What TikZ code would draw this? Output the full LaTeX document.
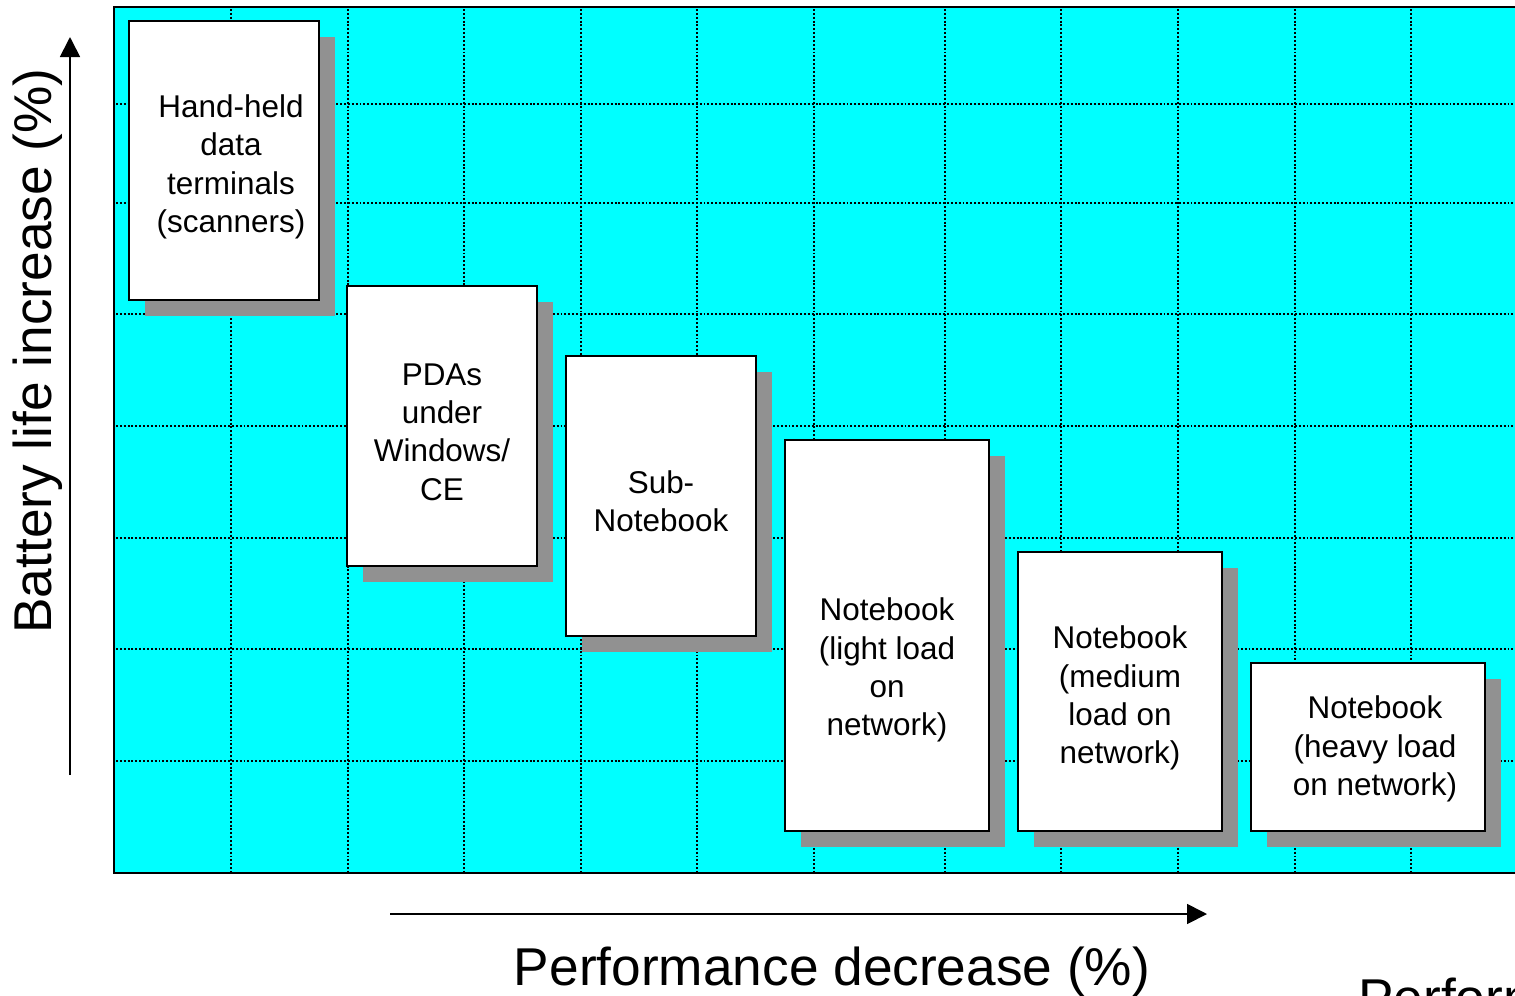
\documentclass[tikz,border=0pt]{standalone}
\usepackage{fontspec}
\setmainfont{Liberation Sans}
\usetikzlibrary{arrows.meta,shadows}
\definecolor{plotcyan}{RGB}{0,255,255}
\definecolor{shadowgray}{RGB}{145,145,145}

\begin{document}
\begin{tikzpicture}[x=0.02cm, y=-0.02cm,
        box/.style={draw, line width=1.3pt, fill=white, inner sep=0pt,
            drop shadow={shadow xshift=0.32cm, shadow yshift=-0.32cm, fill=shadowgray, opacity=1}},
        boxtext/.style={align=center, font=\fontsize{17.9}{21.8}\selectfont},
        axislabel/.style={font=\fontsize{30.3}{36}\selectfont},
        axisarrow/.style={line width=1pt, -{Triangle[length=0.4cm, width=0.4cm]}},
        gridline/.style={line width=0.8pt, dash pattern=on 1.1pt off 1.1pt}]
                \useasboundingbox (0,0) rectangle (1515,995);
                \clip (0,0) rectangle (1515,995);
                \draw[line width=1.5pt, fill=plotcyan] (114,7) rectangle (1540,873);
                \foreach \x in {231,348,464,581,697,814,945,1061,1178,1295,1411}
                    \draw[gridline] (\x,9) -- (\x,871);
                \foreach \y in {104,203,314,426,538,649,761}
                    \draw[gridline] (116,\y) -- (1540,\y);
                \node[box, minimum width=3.8cm, minimum height=5.58cm] (handheld) at (224,160.5) {};
                \node[box, minimum width=3.8cm, minimum height=5.6cm] (pdas) at (442,426) {};
                \node[box, minimum width=3.8cm, minimum height=5.6cm] (subnb) at (661,496) {};
                \node[box, minimum width=4.08cm, minimum height=7.82cm] (nblight) at (887,635.5) {};
                \node[box, minimum width=4.08cm, minimum height=5.58cm] (nbmedium) at (1120,691.5) {};
                \node[box, minimum width=4.68cm, minimum height=3.36cm] (nbheavy) at (1368,747) {};
                \node[boxtext] (handheldtext) at (231,167) {Hand-held\\data\\terminals\\(scanners)};
                \node[boxtext] (pdastext) at (442,432) {PDAs\\under\\Windows/\\CE};
                \node[boxtext] (subnbtext) at (661,501) {Sub-\\Notebook};
                \node[boxtext] (nblighttext) at (887,670) {Notebook\\(light load\\on\\network)};
                \node[boxtext] (nbmediumtext) at (1120,698) {Notebook\\(medium\\load on\\network)};
                \node[boxtext] (nbheavytext) at (1375,749) {Notebook\\(heavy load\\on network)};
                \coordinate (ybottom) at (70,775);
                \coordinate (ytop) at (70,37);
                \draw[axisarrow] (ybottom) -- (ytop);
                \coordinate (xleft) at (390,914);
                \coordinate (xright) at (1207,914);
                \draw[axisarrow] (xleft) -- (xright);
                \node[axislabel, rotate=90] (ylabel) at (38,351) {Battery life increase (\%)};
                \node[axislabel, anchor=base] (xlabel) at (832,985) {Performance decrease (\%)};
                \node[axislabel, anchor=base west] (nextlabel) at (1352,1016) {Performance};
            \end{tikzpicture}
\end{document}
